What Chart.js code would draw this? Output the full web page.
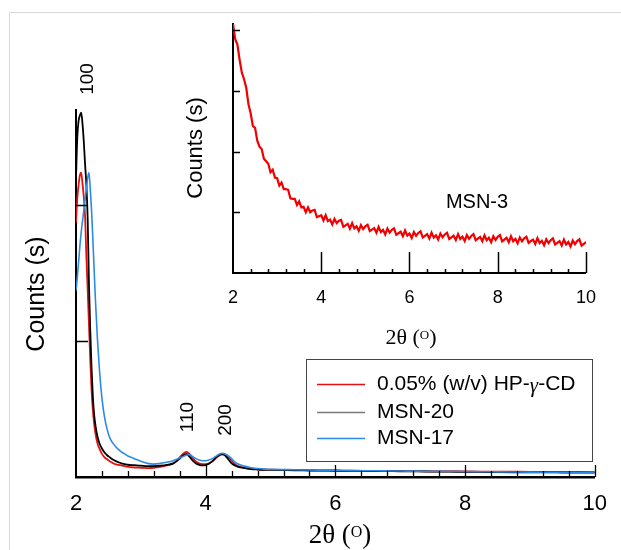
<!DOCTYPE html>
<html><head><meta charset="utf-8">
<script src="https://cdn.jsdelivr.net/npm/chart.js@4.4.0/dist/chart.umd.min.js"></script>
<style>
body{margin:0;background:#fff}
#wrap{position:relative;width:621px;height:550px;background:#fff}
canvas{position:absolute}
</style>
</head><body>
<div id="wrap">
<canvas id="main" width="621" height="550" style="left:0;top:0"></canvas>
<canvas id="inset" width="440" height="350" style="left:170px;top:14px"></canvas>
</div>
<script>
// ---------- data ----------
const mainAngles = [2.00,2.02,2.04,2.06,2.08,2.10,2.12,2.14,2.16,2.18,2.20,2.22,2.24,2.26,2.28,2.30,2.33,2.36,
  2.40,2.44,2.48,2.52,2.56,2.60,2.65,2.70,2.75,2.80,2.90,3.00,3.10,3.20,3.30,3.40,3.50,
  3.55,3.60,3.65,3.70,3.75,3.80,3.85,3.90,3.95,4.00,4.05,4.10,4.15,4.20,4.25,4.30,4.35,4.40,4.45,4.50,
  4.60,4.70,4.80,4.90,5.00,5.25,5.50,5.75,6.00,6.25,6.50,6.75,7.00,7.25,7.50,7.75,8.00,8.25,8.50,8.75,9.00,9.25,9.50,9.75,10.00];
const hpCD = [1.87,2.05,2.15,2.22,2.24,2.16,2.06,1.92,1.62,1.38,1.12,0.86,0.64,0.49,0.39,0.32,0.25,0.21,
  0.17,0.145,0.13,0.115,0.105,0.095,0.09,0.085,0.08,0.075,0.07,0.068,0.066,0.068,0.075,0.085,0.10,
  0.12,0.145,0.17,0.185,0.17,0.14,0.115,0.10,0.095,0.095,0.10,0.115,0.135,0.155,0.165,0.165,0.15,0.12,0.095,0.08,
  0.068,0.06,0.057,0.055,0.054,0.052,0.050,0.049,0.048,0.046,0.045,0.045,0.044,0.043,0.042,0.042,0.041,0.040,0.040,0.039,0.038,0.038,0.037,0.037,0.036];
const msn20 = [2.20,2.50,2.62,2.66,2.68,2.60,2.47,2.30,2.15,1.90,1.42,1.08,0.80,0.59,0.46,0.38,0.30,0.25,
  0.21,0.18,0.16,0.145,0.13,0.12,0.11,0.10,0.095,0.09,0.087,0.084,0.08,0.08,0.084,0.09,0.10,
  0.115,0.135,0.158,0.17,0.15,0.12,0.10,0.09,0.085,0.088,0.098,0.115,0.14,0.16,0.17,0.158,0.13,0.10,0.085,0.075,
  0.065,0.058,0.055,0.053,0.052,0.050,0.049,0.047,0.046,0.045,0.044,0.043,0.042,0.041,0.040,0.039,0.038,0.037,0.036,0.035,0.034,0.034,0.033,0.032,0.032];
const msn17 = [1.37,1.47,1.58,1.70,1.80,1.88,1.96,2.04,2.12,2.20,2.24,2.12,1.96,1.75,1.52,1.30,1.02,0.80,
  0.58,0.44,0.35,0.29,0.255,0.23,0.205,0.185,0.17,0.155,0.135,0.115,0.10,0.095,0.10,0.108,0.12,
  0.13,0.14,0.15,0.16,0.165,0.15,0.135,0.125,0.12,0.12,0.125,0.135,0.15,0.165,0.175,0.17,0.155,0.135,0.11,0.095,
  0.08,0.068,0.062,0.058,0.056,0.054,0.052,0.050,0.049,0.047,0.046,0.045,0.044,0.043,0.042,0.041,0.040,0.039,0.038,0.037,0.036,0.035,0.034,0.033,0.032];

const insetAngles = [2.00,2.05,2.10,2.15,2.20,2.25,2.30,2.35,2.40,2.45,2.50,2.55,2.60,2.65,2.70,2.75,2.80,2.85,2.90,2.95,
  3.00,3.05,3.10,3.15,3.20,3.25,3.30,3.35,3.40,3.45,3.50,3.55,3.60,3.65,3.70,3.75,3.80,3.85,3.90,3.95,
  4.00,4.05,4.10,4.15,4.20,4.25,4.30,4.35,4.40,4.45,4.50,4.55,4.60,4.65,4.70,4.75,4.80,4.85,4.90,4.95,
  5.00,5.05,5.10,5.15,5.20,5.25,5.30,5.35,5.40,5.45,5.50,5.55,5.60,5.65,5.70,5.75,5.80,5.85,5.90,5.95,
  6.00,6.05,6.10,6.15,6.20,6.25,6.30,6.35,6.40,6.45,6.50,6.55,6.60,6.65,6.70,6.75,6.80,6.85,6.90,6.95,
  7.00,7.05,7.10,7.15,7.20,7.25,7.30,7.35,7.40,7.45,7.50,7.55,7.60,7.65,7.70,7.75,7.80,7.85,7.90,7.95,
  8.00,8.05,8.10,8.15,8.20,8.25,8.30,8.35,8.40,8.45,8.50,8.55,8.60,8.65,8.70,8.75,8.80,8.85,8.90,8.95,
  9.00,9.05,9.10,9.15,9.20,9.25,9.30,9.35,9.40,9.45,9.50,9.55,9.60,9.65,9.70,9.75,9.80,9.85,9.90,9.95,10.00];
const msn3 = [4.10,3.85,3.76,3.51,3.30,3.19,3.05,2.78,2.63,2.42,2.39,2.18,2.08,2.04,1.88,1.84,1.80,1.66,1.70,1.57,
  1.56,1.44,1.49,1.38,1.38,1.37,1.23,1.22,1.22,1.12,1.18,1.08,1.09,1.00,1.08,1.00,1.03,1.04,0.92,0.935,
  0.95,0.865,0.95,0.855,0.88,0.80,0.89,0.82,0.86,0.875,0.76,0.785,0.81,0.73,0.82,0.735,0.77,0.695,0.79,0.725,
  0.77,0.795,0.69,0.715,0.74,0.665,0.76,0.675,0.71,0.635,0.73,0.665,0.71,0.735,0.63,0.655,0.68,0.605,0.70,0.615,
  0.65,0.578,0.675,0.613,0.66,0.688,0.585,0.613,0.64,0.568,0.665,0.583,0.62,0.55,0.65,0.588,0.635,0.663,0.56,0.588,
  0.615,0.543,0.64,0.56,0.60,0.528,0.625,0.563,0.61,0.64,0.54,0.568,0.595,0.523,0.62,0.54,0.58,0.508,0.605,0.545,
  0.595,0.623,0.52,0.55,0.58,0.508,0.605,0.523,0.56,0.488,0.585,0.523,0.57,0.598,0.495,0.523,0.55,0.478,0.575,0.493,
  0.53,0.458,0.555,0.493,0.54,0.57,0.47,0.498,0.525,0.453,0.55,0.47,0.51,0.438,0.535,0.475,0.525,0.553,0.45,0.48,0.51];

const seriesNames = ['0.05% (w/v) HP-\u03B3-CD','MSN-20','MSN-17'];
const insetName = 'MSN-3';
const peakLabels = ['100','110','200'];
const xTickLabels = ['2','4','6','8','10'];
const mainYTicks = [1,2];
const insetYTicks = [1,2,3,4];

const colRed = '#e41010', colBlack = '#000000', colBlue = '#2a8be6', colLegendGray = '#7a7a7a';
const SANS = "'Liberation Sans', Arial, sans-serif";
const SERIF = "'Liberation Serif', 'Times New Roman', serif";
Chart.defaults.font.family = SANS;

const pts = (xs, ys) => xs.map((x, i) => ({x, y: ys[i]}));

// ---------- plugins ----------
const inTicks = {
  id: 'inTicks',
  afterDraw(chart, args, o) {
    const {ctx, chartArea: a, scales: {x: xs, y: ys}} = chart;
    ctx.save();
    ctx.strokeStyle = '#000';
    ctx.lineWidth = o.w;
    ctx.beginPath();
    for (let i = 1; i <= 20; i++) {
      const v = 2 + i * 0.4;
      const px = Math.round(xs.getPixelForValue(v)) + 0.5;
      const len = (i % 5 === 0) ? o.xMajor : o.xMinor;
      ctx.moveTo(px, a.bottom); ctx.lineTo(px, a.bottom - len);
    }
    for (const v of o.yTicks) {
      const py = Math.round(ys.getPixelForValue(v)) + 0.5;
      ctx.moveTo(a.left, py); ctx.lineTo(a.left + o.yLen, py);
    }
    ctx.stroke();
    ctx.restore();
  }
};

function rotText(ctx, txt, cx, cy, font) {
  ctx.save();
  ctx.translate(cx, cy); ctx.rotate(-Math.PI / 2);
  ctx.font = font; ctx.textAlign = 'center'; ctx.textBaseline = 'middle';
  ctx.fillStyle = '#000'; ctx.fillText(txt, 0, 0);
  ctx.restore();
}
function thetaTitle(ctx, cx, base, big, small, rise) {
  ctx.save();
  ctx.fillStyle = '#000'; ctx.textBaseline = 'alphabetic'; ctx.textAlign = 'left';
  const fb = big + 'px ' + SERIF, fs = small + 'px ' + SERIF;
  ctx.font = fb; const w1 = ctx.measureText('2\u03B8 (').width, w3 = ctx.measureText(')').width;
  ctx.font = fs; const w2 = ctx.measureText('O').width;
  let x = cx - (w1 + w2 + w3) / 2;
  ctx.font = fb; ctx.fillText('2\u03B8 (', x, base); x += w1;
  ctx.font = fs; ctx.fillText('O', x, base - rise); x += w2;
  ctx.font = fb; ctx.fillText(')', x, base);
  ctx.restore();
}

const mainDecor = {
  id: 'mainDecor',
  beforeDraw(chart) {
    const ctx = chart.ctx;
    ctx.save();
    ctx.fillStyle = '#fff'; ctx.fillRect(0, 0, chart.width, chart.height);
    ctx.strokeStyle = '#d8d8d8'; ctx.lineWidth = 1;
    ctx.beginPath(); ctx.moveTo(9.5, 550); ctx.lineTo(9.5, 12.5); ctx.lineTo(621, 12.5); ctx.stroke();
    ctx.restore();
  },
  afterDraw(chart) {
    const ctx = chart.ctx;
    rotText(ctx, 'Counts (s)', 37, 294, '25px ' + SANS);
    thetaTitle(ctx, 340, 543, 27, 16, 6);
    rotText(ctx, peakLabels[0], 88, 79, '19px ' + SANS);
    rotText(ctx, peakLabels[1], 188, 417, '19px ' + SANS);
    rotText(ctx, peakLabels[2], 226, 420, '19px ' + SANS);
    // legend
    ctx.save();
    ctx.fillStyle = '#fff'; ctx.fillRect(306, 359, 286, 102);
    ctx.strokeStyle = '#444'; ctx.lineWidth = 1; ctx.strokeRect(306.5, 359.5, 286, 102);
    const cols = [colRed, colLegendGray, colBlue];
    const rows = [384, 412, 438];
    ctx.textBaseline = 'middle'; ctx.fillStyle = '#000';
    rows.forEach((ry, i) => {
      ctx.strokeStyle = cols[i]; ctx.lineWidth = 1.5;
      ctx.beginPath(); ctx.moveTo(317, ry + 0.5); ctx.lineTo(365, ry + 0.5); ctx.stroke();
      if (i === 0) {
        const parts = seriesNames[0].split('\u03B3');
        let x = 377;
        ctx.font = '21px ' + SANS; ctx.fillText(parts[0], x, ry); x += ctx.measureText(parts[0]).width;
        ctx.font = 'italic 21px ' + SERIF; ctx.fillText('\u03B3', x, ry + 2); x += ctx.measureText('\u03B3').width;
        ctx.font = '21px ' + SANS; ctx.fillText(parts[1], x, ry);
      } else {
        ctx.font = '21px ' + SANS; ctx.fillText(seriesNames[i], 377, ry);
      }
    });
    ctx.restore();
  }
};

const insetDecor = {
  id: 'insetDecor',
  afterDraw(chart) {
    const ctx = chart.ctx;
    rotText(ctx, 'Counts (s)', 26, 134, '22px ' + SANS);
    ctx.save();
    ctx.font = '20px ' + SANS; ctx.textAlign = 'center'; ctx.textBaseline = 'middle'; ctx.fillStyle = '#000';
    ctx.fillText(insetName, 307, 188);
    ctx.restore();
    thetaTitle(ctx, 241, 330, 22, 13, 5);
  }
};

// ---------- main chart ----------
new Chart(document.getElementById('main'), {
  type: 'line',
  data: {
    datasets: [
      {label: seriesNames[2], data: pts(mainAngles, msn17), borderColor: colBlue, borderWidth: 1.6, order: 0},
      {label: seriesNames[1], data: pts(mainAngles, msn20), borderColor: colBlack, borderWidth: 1.8, order: 1},
      {label: seriesNames[0], data: pts(mainAngles, hpCD), borderColor: colRed, borderWidth: 1.8, order: 2}
    ]
  },
  options: {
    responsive: false, animation: false, devicePixelRatio: 1,
    elements: {point: {radius: 0}, line: {tension: 0.3, cubicInterpolationMode: 'monotone'}},
    layout: {padding: {left: 0, right: 26, top: 110, bottom: 0}},
    plugins: {legend: {display: false}, tooltip: {enabled: false},
      inTicks: {w: 1.3, xMajor: 12, xMinor: 6, yTicks: mainYTicks, yLen: 12}},
    scales: {
      x: {type: 'linear', min: 2, max: 10,
        afterFit: s => { s.height = 73; },
        ticks: {stepSize: 2, color: '#000', font: {size: 22}, padding: 14,
          callback: (v) => xTickLabels[Math.round((v - 2) / 2)]},
        grid: {display: false, drawTicks: false},
        border: {display: true, color: '#000', width: 2.5}},
      y: {min: 0, max: 2.70,
        afterFit: s => { s.width = 76; },
        ticks: {display: false},
        grid: {display: false, drawTicks: false},
        border: {display: true, color: '#000', width: 2}}
    }
  },
  plugins: [mainDecor, inTicks]
});

// ---------- inset chart ----------
new Chart(document.getElementById('inset'), {
  type: 'line',
  data: {
    datasets: [
      {label: insetName, data: pts(insetAngles, msn3), borderColor: '#f00000', borderWidth: 2.2, tension: 0}
    ]
  },
  options: {
    responsive: false, animation: false, devicePixelRatio: 1,
    elements: {point: {radius: 0}},
    layout: {padding: {left: 0, right: 21, top: 10, bottom: 0}},
    plugins: {legend: {display: false}, tooltip: {enabled: false},
      inTicks: {w: 1.5, xMajor: 21, xMinor: 4, yTicks: insetYTicks, yLen: 7}},
    scales: {
      x: {type: 'linear', min: 2, max: 10,
        afterFit: s => { s.height = 91; },
        ticks: {stepSize: 2, color: '#000', font: {size: 18}, padding: 14,
          callback: (v) => xTickLabels[Math.round((v - 2) / 2)]},
        grid: {display: false, drawTicks: false},
        border: {display: true, color: '#000', width: 2}},
      y: {min: 0, max: 4.1,
        afterFit: s => { s.width = 63; },
        ticks: {display: false},
        grid: {display: false, drawTicks: false},
        border: {display: true, color: '#000', width: 2}}
    }
  },
  plugins: [insetDecor, inTicks]
});
</script>
</body></html>
